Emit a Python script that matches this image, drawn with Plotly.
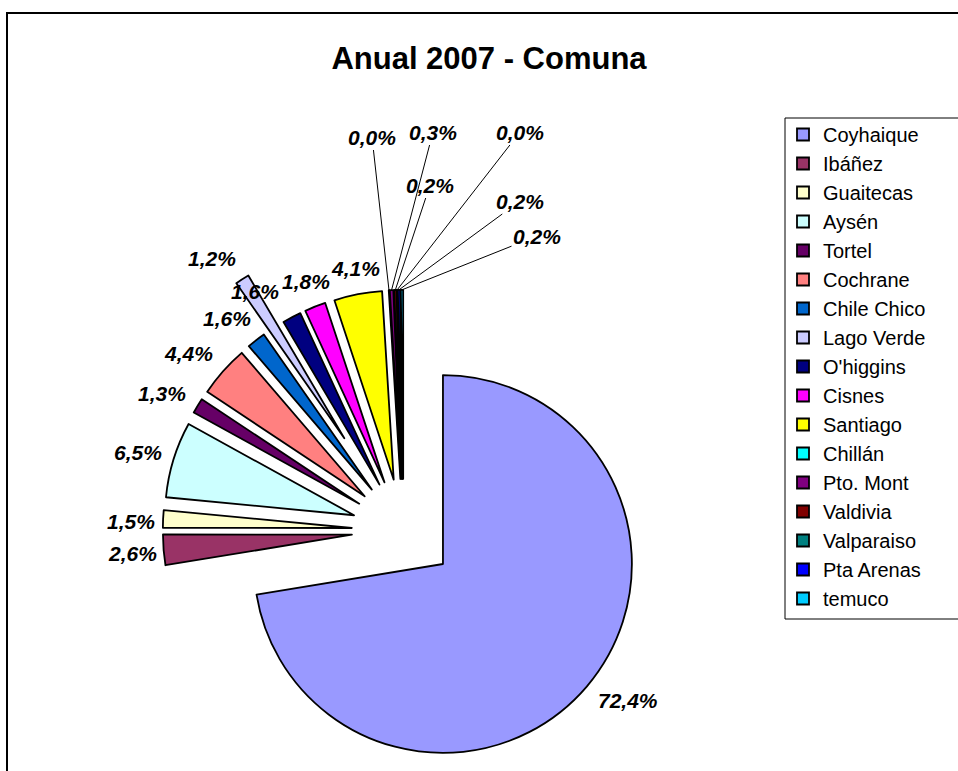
import math
import plotly.graph_objects as go

labels = ["Coyhaique", "Ibáñez", "Guaitecas", "Aysén", "Tortel", "Cochrane",
          "Chile Chico", "Lago Verde", "O'higgins", "Cisnes", "Santiago",
          "Chillán", "Pto. Mont", "Valdivia", "Valparaiso", "Pta Arenas", "temuco"]
values = [72.4, 2.6, 1.5, 6.5, 1.3, 4.4, 1.6, 1.2, 1.6, 1.8, 4.1,
          0.04, 0.3, 0.2, 0.04, 0.2, 0.2]
pct_text = ["72,4%", "2,6%", "1,5%", "6,5%", "1,3%", "4,4%", "1,6%", "1,2%",
            "1,6%", "1,8%", "4,1%", "0,0%", "0,3%", "0,2%", "0,0%", "0,2%", "0,2%"]
colors = ["#9999FF", "#993366", "#FFFFCC", "#CCFFFF", "#660066", "#FF8080",
          "#0066CC", "#CCCCFF", "#000080", "#FF00FF", "#FFFF00", "#00FFFF",
          "#800080", "#800000", "#008080", "#0000FF", "#00CCFF"]
pulls = [0.274] * len(labels)
pulls[7] = 0.58

# label placement (pixels) as arranged in the original chart; tiny slices use leader lines
label_xy = [(628, 700), (132, 553), (131, 521), (138, 452), (162, 393), (188, 353),
            (227, 318), (212, 258), (255, 291), (306, 281), (355, 268),
            (372, 137), (433, 132), (430, 185), (520, 132), (520, 201), (537, 236)]
leader = [False] * 11 + [True] * 6

W, H = 958, 829
L, T = 105, 232
PW = 597
R = W - L - PW
B = H - T - PW


def px(x):
    return (x - L) / PW


def py(y):
    return 1 - (y - T) / PW


label_font = dict(family="Liberation Sans, Arial", size=21, color="black",
                  weight="bold", style="italic")

fig = go.Figure(go.Pie(
    labels=labels, values=values, text=pct_text,
    textinfo="none",
    marker=dict(colors=colors, line=dict(color="black", width=1.8)),
    pull=pulls, sort=False, direction="clockwise", rotation=0,
    hoverinfo="label+percent",
))

# geometry of the pie as plotly lays it out (for leader-line targets)
cx = L + PW / 2
cy = T + PW / 2
rr = (PW / 2) / (1 + max(pulls))
total = sum(values)
annotations = []
cum = 0.0
for i, v in enumerate(values):
    mid = (cum + v / 2) / total * 2 * math.pi
    cum += v
    lx, ly = label_xy[i]
    if leader[i]:
        d = (1 + pulls[i]) * rr
        tx = cx + d * math.sin(mid)
        ty = cy - d * math.cos(mid)
        annotations.append(dict(
            x=px(tx), y=py(ty), xref="paper", yref="paper",
            ax=lx - tx, ay=ly - ty, axref="pixel", ayref="pixel",
            text=pct_text[i], showarrow=True, arrowhead=0, arrowwidth=1,
            arrowcolor="black", standoff=0, startstandoff=0,
            font=label_font))
    else:
        annotations.append(dict(
            x=px(lx), y=py(ly), xref="paper", yref="paper",
            xanchor="center", yanchor="middle", text=pct_text[i],
            showarrow=False, font=label_font))

fig.update_layout(
    width=W, height=H,
    margin=dict(l=L, r=R, t=T, b=B, autoexpand=False),
    paper_bgcolor="white",
    title=dict(text="<b>Anual 2007 - Comuna</b>", x=489 / W, xref="container",
               xanchor="center", y=1 - 58 / H, yref="container", yanchor="middle",
               font=dict(family="Liberation Sans, Arial", size=31, color="black")),
    legend=dict(x=px(783), y=py(115), xanchor="left", yanchor="top",
                borderwidth=0, bgcolor="rgba(0,0,0,0)", maxheight=700,
                font=dict(family="Liberation Sans, Arial", size=20, color="black"),
                traceorder="normal", itemwidth=30),
    annotations=annotations,
    shapes=[
        dict(type="rect", xref="paper", yref="paper",
             x0=px(7), x1=px(1100), y0=py(13), y1=py(1100),
             line=dict(color="black", width=2), layer="below"),
        dict(type="rect", xref="paper", yref="paper",
             x0=px(785), x1=px(1100), y0=py(118), y1=py(619),
             line=dict(color="black", width=1), fillcolor="white", layer="below"),
    ],
)

fig.write_html("out.html", config={"displayModeBar": False},
               post_script="document.body.style.margin='0';")
